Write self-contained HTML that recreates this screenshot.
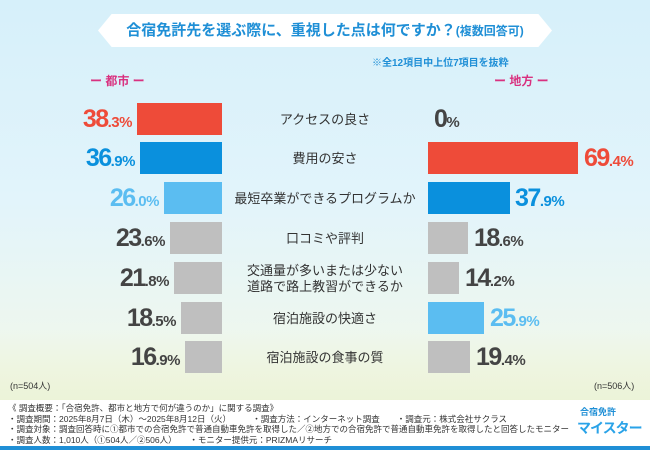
<!DOCTYPE html>
<html><head><meta charset="utf-8"><style>
*{margin:0;padding:0;box-sizing:border-box}
body{width:650px;height:450px;overflow:hidden;font-family:"Liberation Sans","Noto Sans CJK JP",sans-serif;position:relative;background:linear-gradient(#d6f0fa 0%,#e2f4fb 45%,#eef7ee 75%,#f3f7e6 88%)}
.a{position:absolute}
.title{left:98px;top:14px;width:454px;height:33px;background:#fff;color:#1f8fd6;font-size:15px;font-weight:bold;text-align:center;line-height:33px;clip-path:polygon(3% 0,97% 0,100% 50%,97% 100%,3% 100%,0 50%)}
.bar{position:absolute;height:32px}
.lab{position:absolute;left:232px;width:186px;text-align:center;font-size:13px;color:#333;line-height:16px}
.num{position:absolute;font-size:25px;font-weight:bold;letter-spacing:-1.5px;line-height:32px;white-space:nowrap}
.num small{font-size:15px;letter-spacing:-0.5px}
.L{text-align:right;width:80px}
.foot{left:0;top:400px;width:650px;height:46px;background:#fff}
.ft{font-size:8.5px;color:#333;line-height:10.5px;left:8px;top:403px;white-space:nowrap}
</style></head><body>
<div class="a" style="left:0;top:330px;width:650px;height:70px;background:linear-gradient(rgba(255,255,255,0),rgba(235,243,215,0.9))"></div>
<div class="a title">合宿免許先を選ぶ際に、重視した点は何ですか？<span style="font-size:12px">(複数回答可)</span></div>
<div class="a" style="left:372px;top:54px;font-size:10px;color:#1f8fd6;font-weight:bold">※全12項目中上位7項目を抜粋</div>
<div class="a" style="left:90px;top:72px;font-size:12px;color:#d9317f;font-weight:bold">ー 都市 ー</div>
<div class="a" style="left:494px;top:72px;font-size:12px;color:#d9317f;font-weight:bold">ー 地方 ー</div>

<div class="bar" style="left:137px;top:103px;width:85px;background:#ee4b39"></div>
<div class="bar" style="left:140px;top:142px;width:82px;background:#0a90dd"></div>
<div class="bar" style="left:164px;top:182px;width:58px;background:#5bbdf1"></div>
<div class="bar" style="left:170px;top:222px;width:52px;background:#bfbfbf"></div>
<div class="bar" style="left:174px;top:262px;width:48px;background:#bfbfbf"></div>
<div class="bar" style="left:181px;top:302px;width:41px;background:#bfbfbf"></div>
<div class="bar" style="left:185px;top:341px;width:37px;background:#bfbfbf"></div>

<div class="bar" style="left:428px;top:142px;width:150px;background:#ee4b39"></div>
<div class="bar" style="left:428px;top:182px;width:82px;background:#0a90dd"></div>
<div class="bar" style="left:428px;top:222px;width:40px;background:#bfbfbf"></div>
<div class="bar" style="left:428px;top:262px;width:31px;background:#bfbfbf"></div>
<div class="bar" style="left:428px;top:302px;width:56px;background:#5bbdf1"></div>
<div class="bar" style="left:428px;top:341px;width:42px;background:#bfbfbf"></div>

<div class="num L" style="left:52px;top:103px;color:#ee4b39">38<small>.3%</small></div>
<div class="num L" style="left:55px;top:142px;color:#0a90dd">36<small>.9%</small></div>
<div class="num L" style="left:79px;top:182px;color:#5bbdf1">26<small>.0%</small></div>
<div class="num L" style="left:85px;top:222px;color:#444">23<small>.6%</small></div>
<div class="num L" style="left:89px;top:262px;color:#444">21<small>.8%</small></div>
<div class="num L" style="left:96px;top:302px;color:#444">18<small>.5%</small></div>
<div class="num L" style="left:100px;top:341px;color:#444">16<small>.9%</small></div>

<div class="num" style="left:434px;top:103px;color:#444">0<small>%</small></div>
<div class="num" style="left:584px;top:142px;color:#ee4b39">69<small>.4%</small></div>
<div class="num" style="left:515px;top:182px;color:#0a90dd">37<small>.9%</small></div>
<div class="num" style="left:474px;top:222px;color:#444">18<small>.6%</small></div>
<div class="num" style="left:465px;top:262px;color:#444">14<small>.2%</small></div>
<div class="num" style="left:490px;top:302px;color:#5bbdf1">25<small>.9%</small></div>
<div class="num" style="left:476px;top:341px;color:#444">19<small>.4%</small></div>

<div class="lab" style="top:112px">アクセスの良さ</div>
<div class="lab" style="top:151px">費用の安さ</div>
<div class="lab" style="top:191px">最短卒業ができるプログラムか</div>
<div class="lab" style="top:231px">口コミや評判</div>
<div class="lab" style="top:263px">交通量が多いまたは少ない<br>道路で路上教習ができるか</div>
<div class="lab" style="top:311px">宿泊施設の快適さ</div>
<div class="lab" style="top:350px">宿泊施設の食事の質</div>

<div class="a" style="left:10px;top:379px;font-size:9px;color:#333">(n=504人)</div>
<div class="a" style="left:594px;top:379px;font-size:9px;color:#333">(n=506人)</div>

<div class="a foot"></div>
<div class="a" style="left:0;top:446px;width:650px;height:4px;background:#1f8fd6"></div>
<div class="a ft">《 調査概要：「合宿免許、都市と地方で何が違うのか」に関する調査》<br>・調査期間：2025年8月7日（木）～2025年8月12日（火）　　　・調査方法：インターネット調査　　・調査元：株式会社サクラス<br>・調査対象：調査回答時に①都市での合宿免許で普通自動車免許を取得した／②地方での合宿免許で普通自動車免許を取得したと回答したモニター<br>・調査人数：1,010人（①504人／②506人）　　・モニター提供元：PRIZMAリサーチ</div>
<div class="a" style="left:580px;top:405px;font-size:9px;font-weight:bold;color:#1f8fd6;white-space:nowrap">合宿免許</div>
<div class="a" style="left:577px;top:418px;font-size:14px;font-weight:bold;color:#2aa3e8;letter-spacing:-1px;white-space:nowrap">マイスター</div>
</body></html>
